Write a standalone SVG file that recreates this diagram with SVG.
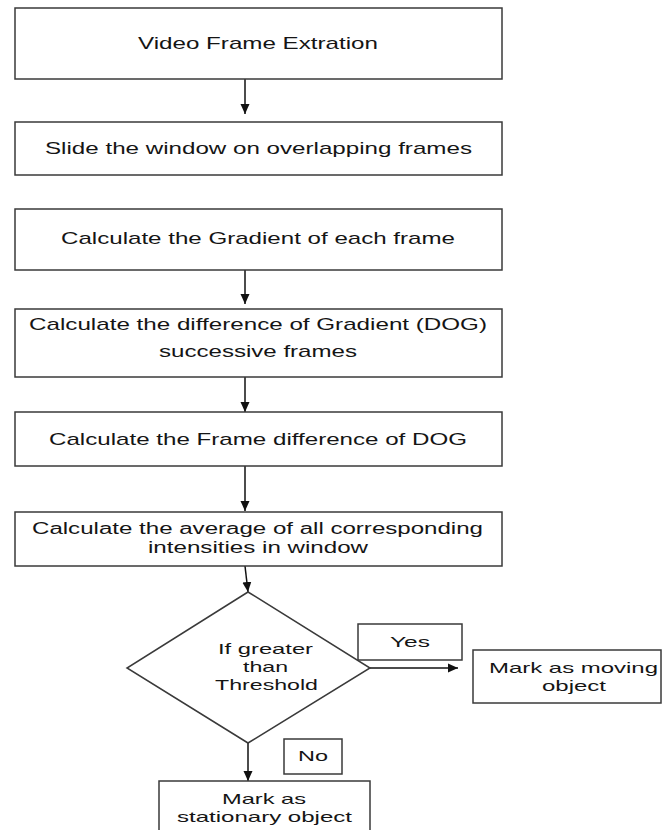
<svg xmlns="http://www.w3.org/2000/svg" width="662" height="830" viewBox="0 0 662 830">
<style>
.box{fill:#fff;stroke:#3a3a3a;stroke-width:1.5}
.t{font-family:"Liberation Sans",Arial,sans-serif;font-size:17px;fill:#151515;text-anchor:middle}
.s{font-size:15px}
.m{font-size:16px}
.c{fill:none;stroke:#111;stroke-width:1.5}
</style>
<defs>
<marker id="ah" markerUnits="userSpaceOnUse" markerWidth="10" markerHeight="10" viewBox="0 0 10 10" refX="10" refY="5" orient="auto">
<path d="M0,0.5 L10,5 L0,9.5 Z" fill="#111"/>
</marker>
</defs>
<rect width="662" height="830" fill="#fff"/>
<g id="connectors">
<line class="c" x1="245" y1="79" x2="245" y2="114" marker-end="url(#ah)"/>
<line class="c" x1="245" y1="270" x2="245" y2="304" marker-end="url(#ah)"/>
<line class="c" x1="245" y1="377" x2="245" y2="412" marker-end="url(#ah)"/>
<line class="c" x1="245" y1="466" x2="245" y2="511" marker-end="url(#ah)"/>
<line class="c" x1="245" y1="566" x2="248" y2="592" marker-end="url(#ah)"/>
<line class="c" x1="370" y1="668" x2="458" y2="668" marker-end="url(#ah)"/>
<line class="c" x1="248" y1="743" x2="248" y2="781" marker-end="url(#ah)"/>
</g>
<g id="n1"><rect class="box" x="15" y="8" width="487" height="71"/>
<text class="t" x="258" y="49" textLength="240" lengthAdjust="spacingAndGlyphs">Video Frame Extration</text></g>
<g id="n2"><rect class="box" x="15" y="122" width="487" height="53"/>
<text class="t" x="258.5" y="154" textLength="427" lengthAdjust="spacingAndGlyphs">Slide the window on overlapping frames</text></g>
<g id="n3"><rect class="box" x="15" y="209" width="487" height="61"/>
<text class="t" x="258" y="244" textLength="394" lengthAdjust="spacingAndGlyphs">Calculate the Gradient of each frame</text></g>
<g id="n4"><rect class="box" x="15" y="309" width="487" height="68"/>
<text class="t" x="258" y="330" textLength="458" lengthAdjust="spacingAndGlyphs">Calculate the difference of Gradient (DOG)</text>
<text class="t" x="258" y="357" textLength="198" lengthAdjust="spacingAndGlyphs">successive frames</text></g>
<g id="n5"><rect class="box" x="15" y="412" width="487" height="54"/>
<text class="t" x="258" y="445" textLength="418" lengthAdjust="spacingAndGlyphs">Calculate the Frame difference of DOG</text></g>
<g id="n6"><rect class="box" x="15" y="512" width="487" height="54"/>
<text class="t m" x="257.5" y="534" textLength="451" lengthAdjust="spacingAndGlyphs">Calculate the average of all corresponding</text>
<text class="t m" x="258" y="553" textLength="220" lengthAdjust="spacingAndGlyphs">intensities in window</text></g>
<g id="decision"><polygon class="box" points="248,592 370,668 248,743 127,668"/>
<text class="t s" x="265.5" y="654" textLength="95" lengthAdjust="spacingAndGlyphs">If greater</text>
<text class="t s" x="265.5" y="672" textLength="45" lengthAdjust="spacingAndGlyphs">than</text>
<text class="t s" x="266.5" y="690" textLength="103" lengthAdjust="spacingAndGlyphs">Threshold</text></g>
<g id="yes"><rect class="box" x="358" y="624" width="104" height="36"/>
<text class="t s" x="410" y="647" textLength="40" lengthAdjust="spacingAndGlyphs">Yes</text></g>
<g id="moving"><rect class="box" x="473" y="650" width="188" height="53"/>
<text class="t s" x="573.5" y="673" textLength="169" lengthAdjust="spacingAndGlyphs">Mark as moving</text>
<text class="t s" x="574" y="691" textLength="64" lengthAdjust="spacingAndGlyphs">object</text></g>
<g id="no"><rect class="box" x="284" y="739" width="58" height="35"/>
<text class="t s" x="313" y="761" textLength="30" lengthAdjust="spacingAndGlyphs">No</text></g>
<g id="stationary"><rect class="box" x="159" y="781" width="211" height="60"/>
<text class="t s" x="264" y="804" textLength="84" lengthAdjust="spacingAndGlyphs">Mark as</text>
<text class="t s" x="264.5" y="822" textLength="175" lengthAdjust="spacingAndGlyphs">stationary object</text></g>
</svg>
